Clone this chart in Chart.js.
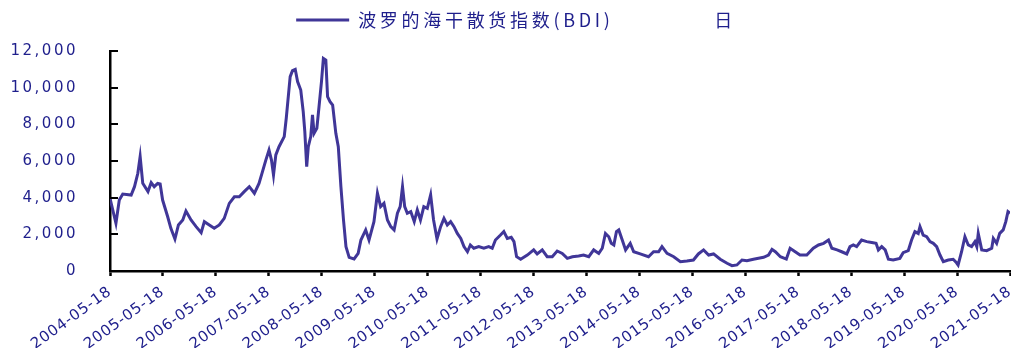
<!DOCTYPE html>
<html><head><meta charset="utf-8">
<script src="https://cdn.jsdelivr.net/npm/chart.js@4/dist/chart.umd.min.js"></script>
<style>html,body{margin:0;padding:0;background:#fff;overflow:hidden}#wrap{width:1011px;height:348px;position:relative}</style>
</head><body><div id="wrap"><canvas id="c" width="1011" height="348"></canvas></div>
<script>
const seriesName = "波罗的海干散货指数(BDI)";
const freqLabel = "日";
const tickLabels = ["2004-05-18","2005-05-18","2006-05-18","2007-05-18","2008-05-18","2009-05-18","2010-05-18","2011-05-18","2012-05-18","2013-05-18","2014-05-18","2015-05-18","2016-05-18","2017-05-18","2018-05-18","2019-05-18","2020-05-18","2021-05-18"];
const yTicks = [0,2000,4000,6000,8000,10000,12000];
const dates = ["2004-05-18","2004-06-28","2004-07-21","2004-08-14","2004-10-11","2004-11-03","2004-11-26","2004-12-12","2004-12-30","2005-02-04","2005-02-26","2005-03-19","2005-04-12","2005-04-29","2005-05-16","2005-06-20","2005-07-12","2005-08-09","2005-09-02","2005-10-02","2005-10-24","2005-11-28","2006-01-02","2006-02-06","2006-02-28","2006-04-03","2006-05-07","2006-06-11","2006-07-15","2006-08-19","2006-09-23","2006-10-27","2006-11-30","2007-01-04","2007-02-08","2007-03-12","2007-04-05","2007-04-28","2007-05-20","2007-06-06","2007-06-20","2007-07-06","2007-07-28","2007-09-02","2007-09-16","2007-10-13","2007-10-29","2007-11-17","2007-12-03","2007-12-25","2008-01-11","2008-01-22","2008-02-04","2008-02-15","2008-03-03","2008-03-15","2008-03-26","2008-04-14","2008-04-29","2008-05-16","2008-05-29","2008-06-15","2008-06-27","2008-07-14","2008-08-01","2008-08-23","2008-09-09","2008-09-27","2008-10-15","2008-11-01","2008-11-23","2008-12-27","2009-01-24","2009-02-12","2009-03-17","2009-04-09","2009-05-13","2009-06-06","2009-06-28","2009-07-21","2009-08-14","2009-09-06","2009-09-29","2009-10-22","2009-11-10","2009-11-26","2009-12-11","2009-12-29","2010-01-22","2010-02-15","2010-03-08","2010-03-30","2010-04-22","2010-05-16","2010-06-08","2010-06-28","2010-07-22","2010-08-16","2010-09-08","2010-10-01","2010-10-24","2010-11-16","2010-12-09","2011-01-02","2011-01-24","2011-02-17","2011-03-09","2011-04-02","2011-05-06","2011-06-10","2011-07-14","2011-08-07","2011-08-29","2011-10-03","2011-10-26","2011-11-19","2011-12-16","2012-01-04","2012-01-22","2012-02-19","2012-04-05","2012-05-19","2012-06-12","2012-07-17","2012-08-20","2012-09-24","2012-10-28","2012-12-02","2013-01-06","2013-02-10","2013-03-25","2013-04-28","2013-06-03","2013-07-07","2013-08-11","2013-09-04","2013-09-26","2013-10-19","2013-11-05","2013-11-23","2013-12-11","2013-12-27","2014-01-20","2014-02-12","2014-03-16","2014-04-09","2014-05-24","2014-07-20","2014-08-24","2014-09-28","2014-10-21","2014-11-25","2015-01-10","2015-02-25","2015-04-11","2015-05-26","2015-06-29","2015-08-04","2015-09-08","2015-10-12","2015-11-27","2016-01-13","2016-02-16","2016-03-21","2016-04-25","2016-05-29","2016-07-13","2016-08-17","2016-09-21","2016-10-25","2016-11-18","2016-12-11","2017-01-15","2017-02-25","2017-03-23","2017-04-27","2017-05-30","2017-07-16","2017-08-30","2017-10-05","2017-11-09","2017-12-13","2018-01-05","2018-02-10","2018-03-14","2018-04-18","2018-05-10","2018-06-02","2018-06-25","2018-07-29","2018-09-03","2018-10-07","2018-11-06","2018-11-22","2018-12-15","2019-01-08","2019-01-30","2019-03-04","2019-04-19","2019-05-12","2019-06-16","2019-07-09","2019-08-01","2019-08-24","2019-09-05","2019-09-27","2019-10-21","2019-11-13","2019-12-06","2019-12-29","2020-01-21","2020-02-13","2020-03-18","2020-04-21","2020-05-14","2020-05-25","2020-06-18","2020-07-11","2020-08-03","2020-08-26","2020-09-18","2020-10-01","2020-10-11","2020-11-04","2020-12-08","2021-01-12","2021-01-23","2021-02-15","2021-03-08","2021-04-01","2021-04-19","2021-05-04","2021-05-18"];
const bdi = [3960,2600,3870,4200,4145,4600,5330,6240,4780,4330,4820,4600,4780,4745,3870,2960,2330,1745,2510,2780,3270,2780,2420,2090,2690,2510,2330,2510,2870,3690,4050,4050,4330,4600,4240,4780,5420,6050,6600,6050,5240,6330,6780,7330,8330,10600,10930,11000,10330,9870,8690,7600,5690,6780,7330,8510,7510,7780,8960,10330,11600,11510,9510,9240,9050,7510,6780,4600,2780,1330,745,660,964,1690,2240,1690,2690,4240,3510,3690,2780,2420,2240,3150,3510,4600,3510,3150,3240,2690,3330,2780,3510,3420,4150,2800,1750,2420,2870,2510,2690,2420,2050,1780,1330,1050,1420,1240,1330,1240,1330,1240,1690,1960,2150,1780,1840,1600,780,640,870,1150,930,1150,780,780,1090,960,690,780,820,870,780,1150,960,1240,2050,1870,1510,1420,2150,2240,1690,1150,1510,1050,930,780,1050,1050,1330,960,780,510,550,600,930,1150,870,930,640,420,290,330,600,560,640,690,745,870,1180,1050,780,650,1240,1050,870,870,1240,1420,1510,1690,1240,1150,1050,930,1330,1420,1330,1690,1600,1550,1510,1150,1330,1150,640,600,690,1000,1110,1690,2150,2050,2420,1960,1870,1600,1510,1330,870,510,600,640,450,330,1050,1870,1420,1330,1600,1330,2050,1150,1110,1240,1780,1510,2050,2240,2690,3240,3150];

const LINE = '#403698', NAVY = '#1f1f8c';
const xFont = {family: 'DejaVu Sans', size: 15};
const yFont = {family: 'DejaVu Sans', size: 15};
const toMs = s => Date.parse(s + 'T00:00:00Z');
const points = dates.map((d, i) => ({x: toMs(d), y: bdi[i]}));
const tickValues = tickLabels.map(toMs);

function withSpacing(obj, name, spacing, dx) {
  if (obj['_p_' + name]) return;
  obj['_p_' + name] = true;
  const orig = obj[name];
  obj[name] = function (...args) {
    const c = this.ctx; c.save(); c.letterSpacing = spacing; if (dx) c.translate(dx, 0);
    const r = orig.apply(this, args); c.restore(); return r;
  };
}

const patchPlugin = {
  id: 'patch',
  beforeLayout(chart) {
    const lg = chart.legend;
    if (lg && !lg._pf) {
      lg._pf = true;
      const of = lg.fit;
      lg.fit = function () { const c = this.ctx; c.save(); c.letterSpacing = '3.7px'; of.call(this); c.restore(); this.height = 51; };
      withSpacing(lg, 'draw', '3.7px', 11);
    }
    withSpacing(chart.scales.x, 'drawLabels', '0.8px', 0);
    withSpacing(chart.scales.y, 'drawLabels', '2.5px', 0);
  },
  afterDraw(chart) {
    const ys = chart.scales.y, ctx = chart.ctx, left = chart.chartArea.left;
    ctx.save(); ctx.strokeStyle = '#000'; ctx.lineWidth = 2;
    ys.ticks.forEach(t => { const y = Math.round(ys.getPixelForValue(t.value)); ctx.beginPath(); ctx.moveTo(left, y); ctx.lineTo(left + 8, y); ctx.stroke(); });
    ctx.restore();
  }
};

new Chart(document.getElementById('c'), {
  type: 'line',
  data: { datasets: [{ label: seriesName, data: points, borderColor: LINE, backgroundColor: LINE, borderWidth: 3, pointRadius: 0, tension: 0, fill: false }] },
  options: {
    responsive: false, animation: false, events: [],
    layout: { padding: { left: 0, right: 1, top: 0, bottom: 0 } },
    plugins: {
      tooltip: { enabled: false },
      legend: {
        display: true, position: 'top', align: 'center',
        labels: {
          boxWidth: 53, boxHeight: 3, padding: 11, color: NAVY,
          font: { family: 'Noto Sans CJK SC', size: 18 },
          generateLabels(chart) {
            const items = Chart.defaults.plugins.legend.labels.generateLabels(chart);
            items.forEach(it => { it.text = seriesName + ' '.repeat(13) + freqLabel; it.fillStyle = LINE; it.strokeStyle = LINE; it.lineWidth = 0; it.fontColor = NAVY; });
            return items;
          }
        }
      }
    },
    scales: {
      x: {
        type: 'linear', min: tickValues[0], max: tickValues[tickValues.length - 1],
        afterBuildTicks(s) { s.ticks = tickValues.map(v => ({value: v})); },
        afterFit(s) { s.height = 77; s.paddingLeft = 0; s.paddingRight = 0; },
        ticks: { autoSkip: false, minRotation: 36, maxRotation: 36, color: NAVY, font: xFont, padding: 7,
          callback(v, i) { return tickLabels[i]; } },
        grid: { drawOnChartArea: false, drawTicks: true, tickLength: 5, tickWidth: 2.5, tickColor: '#000' },
        border: { display: true, color: '#000', width: 2.5 }
      },
      y: {
        min: 0, max: 12000,
        afterBuildTicks(s) { s.ticks = yTicks.map(v => ({value: v})); },
        afterFit(s) { s.width = 110; },
        ticks: { color: NAVY, font: yFont, padding: 32, callback(v) { return v.toLocaleString('en-US'); } },
        grid: { drawOnChartArea: false, drawTicks: false },
        border: { display: true, color: '#000', width: 2.5 }
      }
    }
  },
  plugins: [patchPlugin]
});
</script></body></html>
